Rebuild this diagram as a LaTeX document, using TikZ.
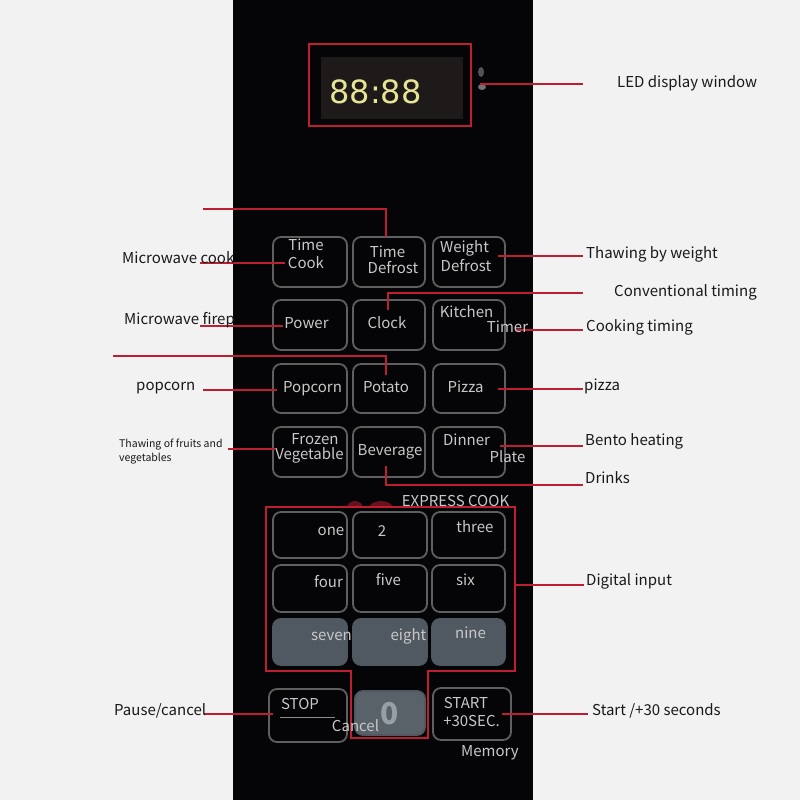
\documentclass[tikz,border=0pt]{standalone}
\usepackage{fontspec}
\setmainfont{Noto Sans CJK SC}
\newfontfamily\ledfont{DejaVu Sans}
\definecolor{bgc}{RGB}{242,242,242}
\definecolor{panel}{RGB}{5,5,8}
\definecolor{redl}{RGB}{190,30,50}
\definecolor{btnedge}{RGB}{95,95,95}
\definecolor{btntext}{RGB}{200,200,200}
\definecolor{fillgray}{RGB}{80,89,97}
\definecolor{ledc}{RGB}{232,228,150}
\definecolor{lcd}{RGB}{30,26,26}
\definecolor{labc}{RGB}{25,25,25}
\definecolor{zeroc}{RGB}{150,158,166}
\begin{document}
\begin{tikzpicture}[x=1pt,y=-1pt,
  btn/.style={draw=btnedge, line width=1.8pt, rounded corners=8pt, fill=panel, inner sep=0},
  gbtn/.style={btn, fill=fillgray, draw=fillgray},
  bt/.style={text=btntext, font=\fontsize{15}{15}\selectfont, inner sep=0, anchor=base},
  lab/.style={text=labc, font=\fontsize{15}{15}\selectfont, inner sep=0, anchor=base west},
  smlab/.style={text=labc, font=\fontsize{10.5}{10.5}\selectfont, inner sep=0, anchor=base west},
  conn/.style={draw=redl, line width=1.1pt},
]
\useasboundingbox (0,0) rectangle (800,800);
\fill[bgc] (0,0) rectangle (800,800);
\fill[panel] (233,0) rectangle (533,800);

% display
\fill[lcd] (321,57) rectangle (463,119);
\node[draw=redl, line width=1.2pt, minimum width=162pt, minimum height=82pt, inner sep=0] (disp) at (390,85) {};
\node[text=ledc, font=\ledfont\fontsize{32}{32}\selectfont, inner sep=0, anchor=base] (led88) at (375.5,103) {88:88};
\fill[gray!60, opacity=0.45] (481,72) ellipse (3pt and 5pt);
\fill[gray!55, opacity=0.6] (482,87) ellipse (4pt and 3pt);

% buttons, top block
\node[btn, minimum width=74pt, minimum height=50pt] (bTC) at (310,262) {};
\node[btn, minimum width=72pt, minimum height=50pt] (bTD) at (389,262) {};
\node[btn, minimum width=72pt, minimum height=50pt] (bWD) at (469,262) {};
\node[btn, minimum width=74pt, minimum height=50pt] (bPW) at (310,325) {};
\node[btn, minimum width=72pt, minimum height=50pt] (bCL) at (389,325) {};
\node[btn, minimum width=72pt, minimum height=50pt] (bKT) at (469,325) {};
\node[btn, minimum width=74pt, minimum height=49pt] (bPC) at (310,388.5) {};
\node[btn, minimum width=72pt, minimum height=49pt] (bPT) at (389,388.5) {};
\node[btn, minimum width=72pt, minimum height=49pt] (bPZ) at (469,388.5) {};
\node[btn, minimum width=74pt, minimum height=50pt] (bFV) at (310,452) {};
\node[btn, minimum width=72pt, minimum height=50pt] (bBV) at (389,452) {};
\node[btn, minimum width=72pt, minimum height=50pt] (bDP) at (469,452) {};

% digit buttons
\node[btn, minimum width=74pt, minimum height=46pt] (d1) at (310,535) {};
\node[btn, minimum width=74pt, minimum height=46pt] (d2) at (390,535) {};
\node[btn, minimum width=73pt, minimum height=46pt] (d3) at (468.5,535) {};
\node[btn, minimum width=74pt, minimum height=47pt] (d4) at (310,588.5) {};
\node[btn, minimum width=74pt, minimum height=47pt] (d5) at (390,588.5) {};
\node[btn, minimum width=73pt, minimum height=47pt] (d6) at (468.5,588.5) {};
\node[gbtn, minimum width=74pt, minimum height=46pt] (d7) at (310,642) {};
\node[gbtn, minimum width=74pt, minimum height=46pt] (d8) at (390,642) {};
\node[gbtn, minimum width=73pt, minimum height=46pt] (d9) at (468.5,642) {};

% bottom row
\node[btn, minimum width=78pt, minimum height=53pt] (bST) at (308,715.5) {};
\node[gbtn, fill=fillgray!95!white, minimum width=70pt, minimum height=44pt] (b0) at (390,713) {};
\node[btn, minimum width=78pt, minimum height=52pt] (bSR) at (472,714) {};

% red blobs above express cook box
\begin{scope}
\clip (330,490) rectangle (400,507);
\fill[redl!55!black] (355,508) ellipse (8pt and 7pt);
\fill[redl!55!black] (381,508) ellipse (12pt and 7pt);
\end{scope}

% digital input box
\draw[redl, line width=1.2pt] (266,507) coordinate (dbA) -- (515,507) -- (515,671) -- (428,671) -- (428,738) -- (351,738) -- (351,671) -- (266,671) -- cycle;
\coordinate (dbR) at (515,585);

% connector coordinates
\coordinate (ledS) at (480,84);   \coordinate (ledE) at (583,84);
\coordinate (tdL) at (203,209);   \coordinate (tdB) at (386,237);
\coordinate (ckL) at (200,263);   \coordinate (ckR) at (285,263);
\coordinate (fpL) at (200,326);   \coordinate (fpR) at (283,326);
\coordinate (ptL) at (113,356);   \coordinate (ptB) at (386,375);
\coordinate (pcL) at (203,390);   \coordinate (pcR) at (277,390);
\coordinate (fvL) at (228,449);   \coordinate (fvR) at (275,449);
\coordinate (bvS) at (386,466);   \coordinate (bvE) at (583,485);
\coordinate (wdS) at (498,256);   \coordinate (wdE) at (583,256);
\coordinate (clS) at (388,310);   \coordinate (clE) at (583,293);
\coordinate (ktS) at (515,330);   \coordinate (ktE) at (583,330);
\coordinate (pzS) at (498,389);   \coordinate (pzE) at (583,389);
\coordinate (dpS) at (500,446);   \coordinate (dpE) at (583,446);
\coordinate (diE) at (584,585);
\coordinate (psL) at (204,714);   \coordinate (psR) at (273,714);
\coordinate (srS) at (502,714);   \coordinate (srE) at (588,714);

\draw[conn] (ledS) -- (ledE);
\draw[conn] (tdL) -| (tdB);
\draw[conn] (ckL) -- (ckR);
\draw[conn] (fpL) -- (fpR);
\draw[conn] (ptL) -| (ptB);
\draw[conn] (pcL) -- (pcR);
\draw[conn] (fvL) -- (fvR);
\draw[conn] (bvS) |- (bvE);
\draw[conn] (wdS) -- (wdE);
\draw[conn] (clS) |- (clE);
\draw[conn] (ktS) -- (ktE);
\draw[conn] (pzS) -- (pzE);
\draw[conn] (dpS) -- (dpE);
\draw[conn] (dbR) -- (diE);
\draw[conn] (psL) -- (psR);
\draw[conn] (srS) -- (srE);

% button texts
\node[bt] (tTC1) at (306,250) {Time};
\node[bt] (tTC2) at (306,268) {Cook};
\node[bt] (tTD1) at (387.5,257) {Time};
\node[bt] (tTD2) at (393,273) {Defrost};
\node[bt] (tWD1) at (464.5,252) {Weight};
\node[bt] (tWD2) at (466,271) {Defrost};
\node[bt] (tPW) at (306.5,328) {Power};
\node[bt] (tCL) at (387,328) {Clock};
\node[bt] (tKT1) at (466.5,317) {Kitchen};
\node[bt] (tKT2) at (507.5,332) {Timer};
\node[bt] (tPC) at (312.5,392) {Popcorn};
\node[bt] (tPT) at (386,392) {Potato};
\node[bt] (tPZ) at (465.5,392) {Pizza};
\node[bt] (tFV1) at (315,444) {Frozen};
\node[bt] (tFV2) at (309.5,459) {Vegetable};
\node[bt] (tBV) at (390,455) {Beverage};
\node[bt] (tDP1) at (466.5,445) {Dinner};
\node[bt] (tDP2) at (507.5,462) {Plate};
\node[bt] (tEX) at (455.5,506) {EXPRESS COOK};
\node[bt] (t1) at (331,535) {one};
\node[bt] (t2) at (382,536) {2};
\node[bt] (t3) at (475,532) {three};
\node[bt] (t4) at (328.5,587) {four};
\node[bt] (t5) at (388.5,585) {five};
\node[bt] (t6) at (465.5,585) {six};
\node[bt] (t7) at (331.5,640) {seven};
\node[bt] (t8) at (408.5,640) {eight};
\node[bt] (t9) at (470.5,638) {nine};
\node[bt] (tSTOP) at (300,709) {STOP};
\draw[btntext!70!black, line width=1pt] (280,717) coordinate (sl1) -- (335,717) coordinate (sl2);
\node[text=zeroc, font=\bfseries\fontsize{30}{30}\selectfont, inner sep=0, anchor=base] (t0) at (390,724) {0};
\node[bt] (tCN) at (355.5,731) {Cancel};
\node[bt] (tSR1) at (466,708) {START};
\node[bt] (tSR2) at (471.5,726) {+30SEC.};
\node[bt] (tMEM) at (490,756) {Memory};

% labels
\node[lab] (lLED) at (617,87) {LED display window};
\node[lab] (lCK) at (122,263) {Microwave cook};
\node[lab] (lFP) at (124,324) {Microwave firep};
\node[lab] (lPC) at (136,390) {popcorn};
\node[smlab] (lFV1) at (119,447) {Thawing of fruits and};
\node[smlab] (lFV2) at (119,461) {vegetables};
\node[lab] (lPS) at (114,715) {Pause/cancel};
\node[lab] (lWD) at (586,258) {Thawing by weight};
\node[lab] (lCL) at (614,296) {Conventional timing};
\node[lab] (lKT) at (586,331) {Cooking timing};
\node[lab] (lPZ) at (584,390) {pizza};
\node[lab] (lDP) at (585,445) {Bento heating};
\node[lab] (lBV) at (585,483) {Drinks};
\node[lab] (lDI) at (586,585) {Digital input};
\node[lab] (lSR) at (592,715) {Start /+30 seconds};
\end{tikzpicture}
\end{document}
